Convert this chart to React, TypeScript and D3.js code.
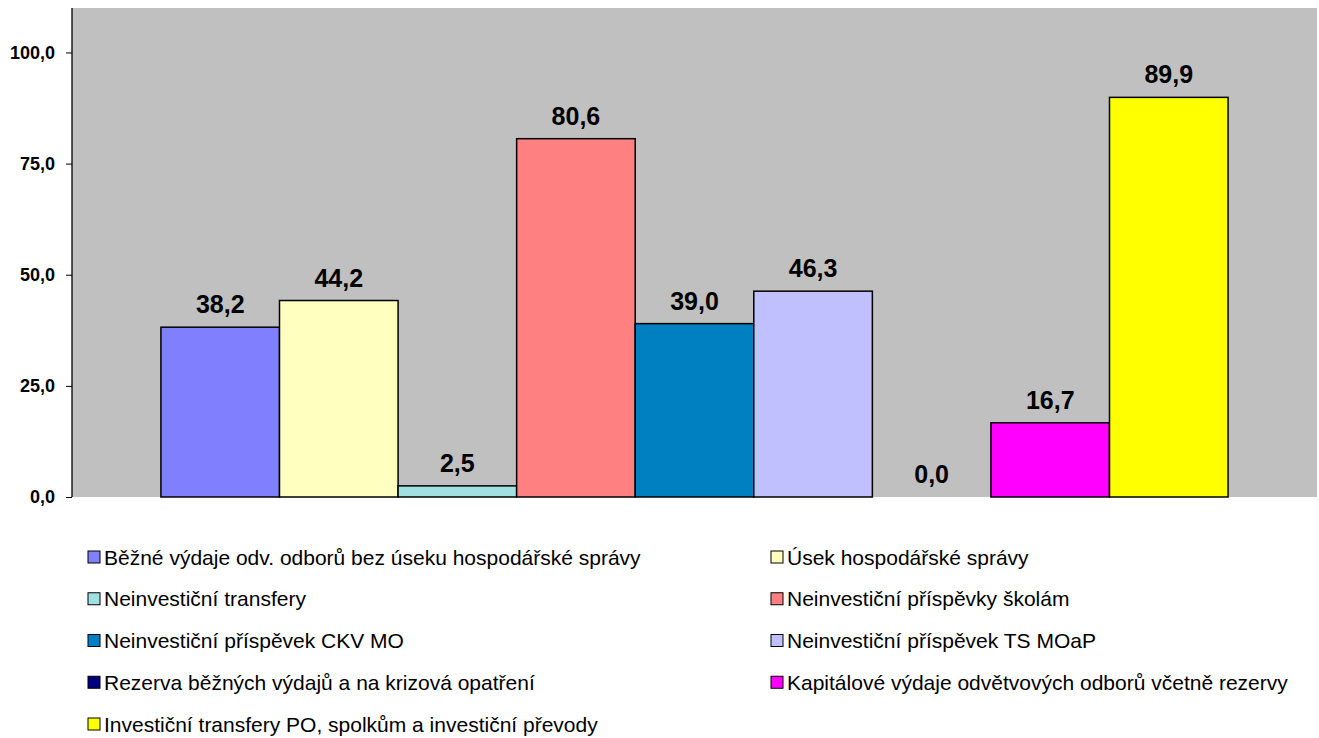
import React, { useEffect, useRef } from "react";
import * as d3 from "d3";

const seriesNames = [
  "Běžné výdaje odv. odborů bez úseku hospodářské správy",
  "Úsek hospodářské správy",
  "Neinvestiční transfery",
  "Neinvestiční příspěvky školám",
  "Neinvestiční příspěvek CKV MO",
  "Neinvestiční příspěvek TS MOaP",
  "Rezerva běžných výdajů a na krizová opatření",
  "Kapitálové výdaje odvětvových odborů včetně rezervy",
  "Investiční transfery PO, spolkům a investiční převody",
];
const seriesValues = [38.2, 44.2, 2.5, 80.6, 39.0, 46.3, 0.0, 16.7, 89.9];
const seriesColors = [
  "#8080FF", "#FFFFC0", "#A0E0E0", "#FF8080", "#0080C0",
  "#C0C0FF", "#000080", "#FF00FF", "#FFFF00",
];
const yTicks = [0, 25, 50, 75, 100];

const W = 1319;
const H = 738;
const plot = { left: 72, right: 1317, top: 8, bottom: 497 };
const fmt = (v: number) => v.toFixed(1).replace(".", ",");

export default function App() {
  const svgRef = useRef<SVGSVGElement>(null);

  useEffect(() => {
    const svg = d3.select(svgRef.current);
    svg.selectAll("*").remove();

    const y = d3.scaleLinear().domain([0, 110]).range([plot.bottom, plot.top]);
    const barW = (plot.right - plot.left) / (seriesNames.length + 1.5);
    const x = d3
      .scaleBand<string>()
      .domain(seriesNames)
      .range([plot.left + barW * 0.75, plot.right - barW * 0.75])
      .padding(0);

    svg.append("rect")
      .attr("x", plot.left).attr("y", plot.top)
      .attr("width", plot.right - plot.left).attr("height", plot.bottom - plot.top)
      .attr("fill", "#C0C0C0");

    // bars
    svg.selectAll("rect.bar")
      .data(seriesNames)
      .enter()
      .append("rect")
      .attr("class", "bar")
      .attr("x", (d) => x(d) || 0)
      .attr("y", (d, i) => y(seriesValues[i]))
      .attr("width", x.bandwidth())
      .attr("height", (d, i) => plot.bottom - y(seriesValues[i]))
      .attr("fill", (d, i) => seriesColors[i])
      .attr("stroke", (d, i) => (seriesValues[i] > 0 ? "#000" : "none"))
      .attr("stroke-width", 1.5);

    // value labels
    svg.selectAll("text.val")
      .data(seriesNames)
      .enter()
      .append("text")
      .attr("class", "val")
      .attr("x", (d) => (x(d) || 0) + x.bandwidth() / 2)
      .attr("y", (d, i) => y(seriesValues[i]) - 14)
      .attr("text-anchor", "middle")
      .attr("font-family", "'Liberation Sans', Arial, sans-serif")
      .attr("font-weight", "bold")
      .attr("font-size", 25)
      .text((d, i) => fmt(seriesValues[i]));

    // y axis
    const yAxis = svg.append("g")
      .attr("transform", `translate(${plot.left},0)`)
      .call(d3.axisLeft(y).tickValues(yTicks).tickSize(6).tickPadding(11).tickFormat((d) => fmt(+d)));
    yAxis.select("path").attr("d", `M0,${plot.top}V${plot.bottom}`).attr("stroke", "#000").attr("stroke-width", 1.3);
    yAxis.selectAll("line").attr("stroke", "#000");
    yAxis.selectAll("text")
      .attr("font-family", "'Liberation Sans', Arial, sans-serif")
      .attr("font-weight", "bold")
      .attr("font-size", 18)
      .attr("fill", "#000");

    // legend
    const cols = [88, 771];
    const rowY = (r: number) => 557 + r * 41.75;
    const lg = svg.selectAll("g.lg")
      .data(seriesNames)
      .enter()
      .append("g")
      .attr("class", "lg")
      .attr("transform", (d, i) => `translate(${cols[i % 2]},${rowY(Math.floor(i / 2))})`);
    lg.append("rect")
      .attr("x", 0).attr("y", -6)
      .attr("width", 12).attr("height", 12)
      .attr("fill", (d, i) => seriesColors[i])
      .attr("stroke", "#000").attr("stroke-width", 1);
    lg.append("text")
      .attr("x", 16).attr("y", 7.5)
      .attr("font-family", "'Liberation Sans', Arial, sans-serif")
      .attr("font-size", 21)
      .attr("fill", "#000")
      .text((d) => d);
  }, []);

  return (
    <div style={{ position: "fixed", left: 0, top: 0 }}>
      <svg ref={svgRef} width={W} height={H} style={{ display: "block", background: "#fff" }} />
    </div>
  );
}
